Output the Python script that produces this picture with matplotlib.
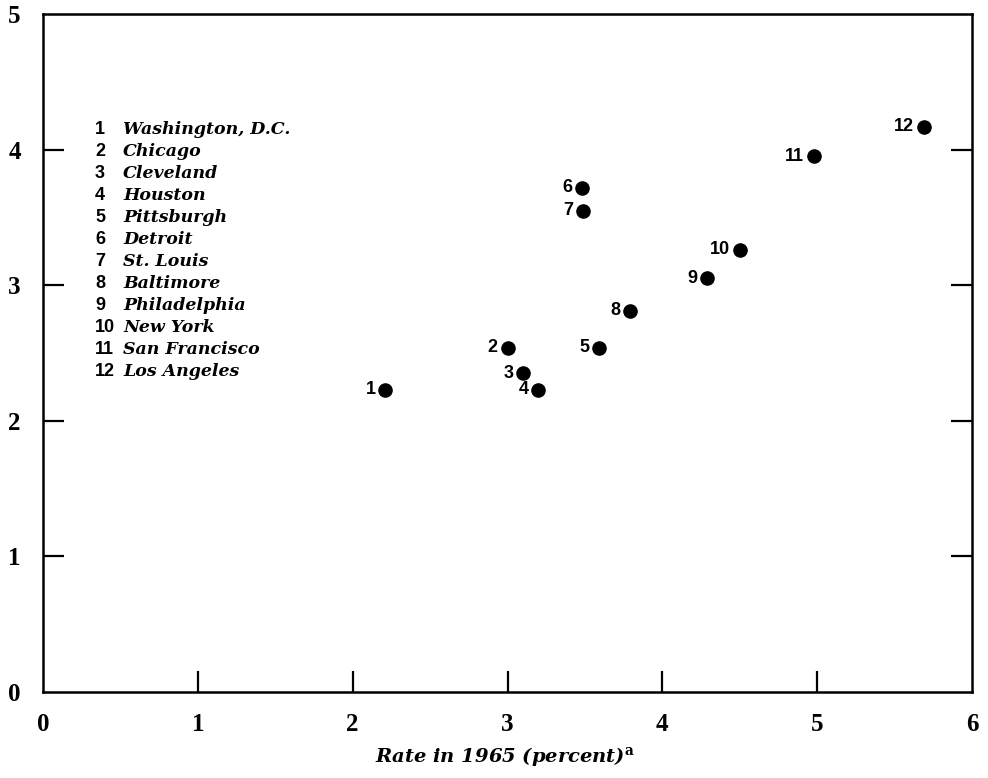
import matplotlib
matplotlib.use("Agg")
import matplotlib.pyplot as plt

# City index, name and rates
city_numbers = [1, 2, 3, 4, 5, 6, 7, 8, 9, 10, 11, 12]
city_names = ["Washington, D.C.", "Chicago", "Cleveland", "Houston",
              "Pittsburgh", "Detroit", "St. Louis", "Baltimore",
              "Philadelphia", "New York", "San Francisco", "Los Angeles"]
rate_1965 = [2.21, 3.00, 3.10, 3.20, 3.59, 3.48, 3.49, 3.79, 4.29, 4.50, 4.98, 5.69]
rate_other = [2.23, 2.54, 2.35, 2.23, 2.54, 3.72, 3.55, 2.81, 3.05, 3.26, 3.95, 4.17]

x_ticks = [0, 1, 2, 3, 4, 5, 6]
y_ticks = [0, 1, 2, 3, 4, 5]
x_label = "Rate in 1965 (percent)"

plt.rcParams["mathtext.fontset"] = "dejavuserif"

fig = plt.figure(figsize=(9.88, 7.78), dpi=100)
ax = fig.add_axes([43 / 988, 86 / 778, 929 / 988, 678 / 778])

ax.scatter(rate_1965, rate_other, s=90, color="black", zorder=3)
for n, x, y in zip(city_numbers, rate_1965, rate_other):
    ax.annotate(str(n), (x, y), xytext=(-7, 0), textcoords="offset points",
                ha="right", va="center", fontsize=13, fontweight="bold",
                family="Liberation Sans")

ax.set_xlim(0, 6)
ax.set_ylim(0, 5)

# Frame and inward ticks
for side in ["left", "right", "top", "bottom"]:
    ax.spines[side].set_linewidth(1.8)
ax.set_xticks(x_ticks)
ax.set_yticks(y_ticks)
ax.set_xticklabels([str(t) for t in x_ticks])
ax.set_yticklabels([str(t) for t in y_ticks])
ax.tick_params(axis="both", direction="in", length=15, width=1.6,
               labelsize=18)
ax.tick_params(axis="x", pad=15)
ax.tick_params(axis="y", pad=16, right=True)
for lbl in ax.get_xticklabels() + ax.get_yticklabels():
    lbl.set_family("Liberation Serif")
    lbl.set_fontweight("bold")

# Hide the ticks that sit on the frame corners
for t in ax.xaxis.get_major_ticks():
    if t.get_loc() in (0, 6):
        t.tick1line.set_visible(False)
for t in ax.yaxis.get_major_ticks():
    if t.get_loc() in (0, 5):
        t.tick1line.set_visible(False)
        t.tick2line.set_visible(False)

# Key of city numbers
x_num = (95 - 43) / 929
x_name = (123 - 43) / 929
y0 = (692 - 130) / 678
step = 22 / 678
for i, (n, name) in enumerate(zip(city_numbers, city_names)):
    y = y0 - i * step
    ax.text(x_num, y, str(n), transform=ax.transAxes, ha="left", va="center",
            fontsize=13, fontweight="bold", family="Liberation Sans")
    ax.text(x_name, y, name, transform=ax.transAxes, ha="left", va="center",
            fontsize=12.5, fontweight="bold", style="italic",
            family="DejaVu Serif")

fig.text(505 / 988, 1 - 757 / 778, x_label + r"$^{\mathbf{a}}$",
         ha="center", va="center", fontsize=14, style="italic",
         fontweight="bold", family="DejaVu Serif")

fig.savefig("out.png", dpi=100)
